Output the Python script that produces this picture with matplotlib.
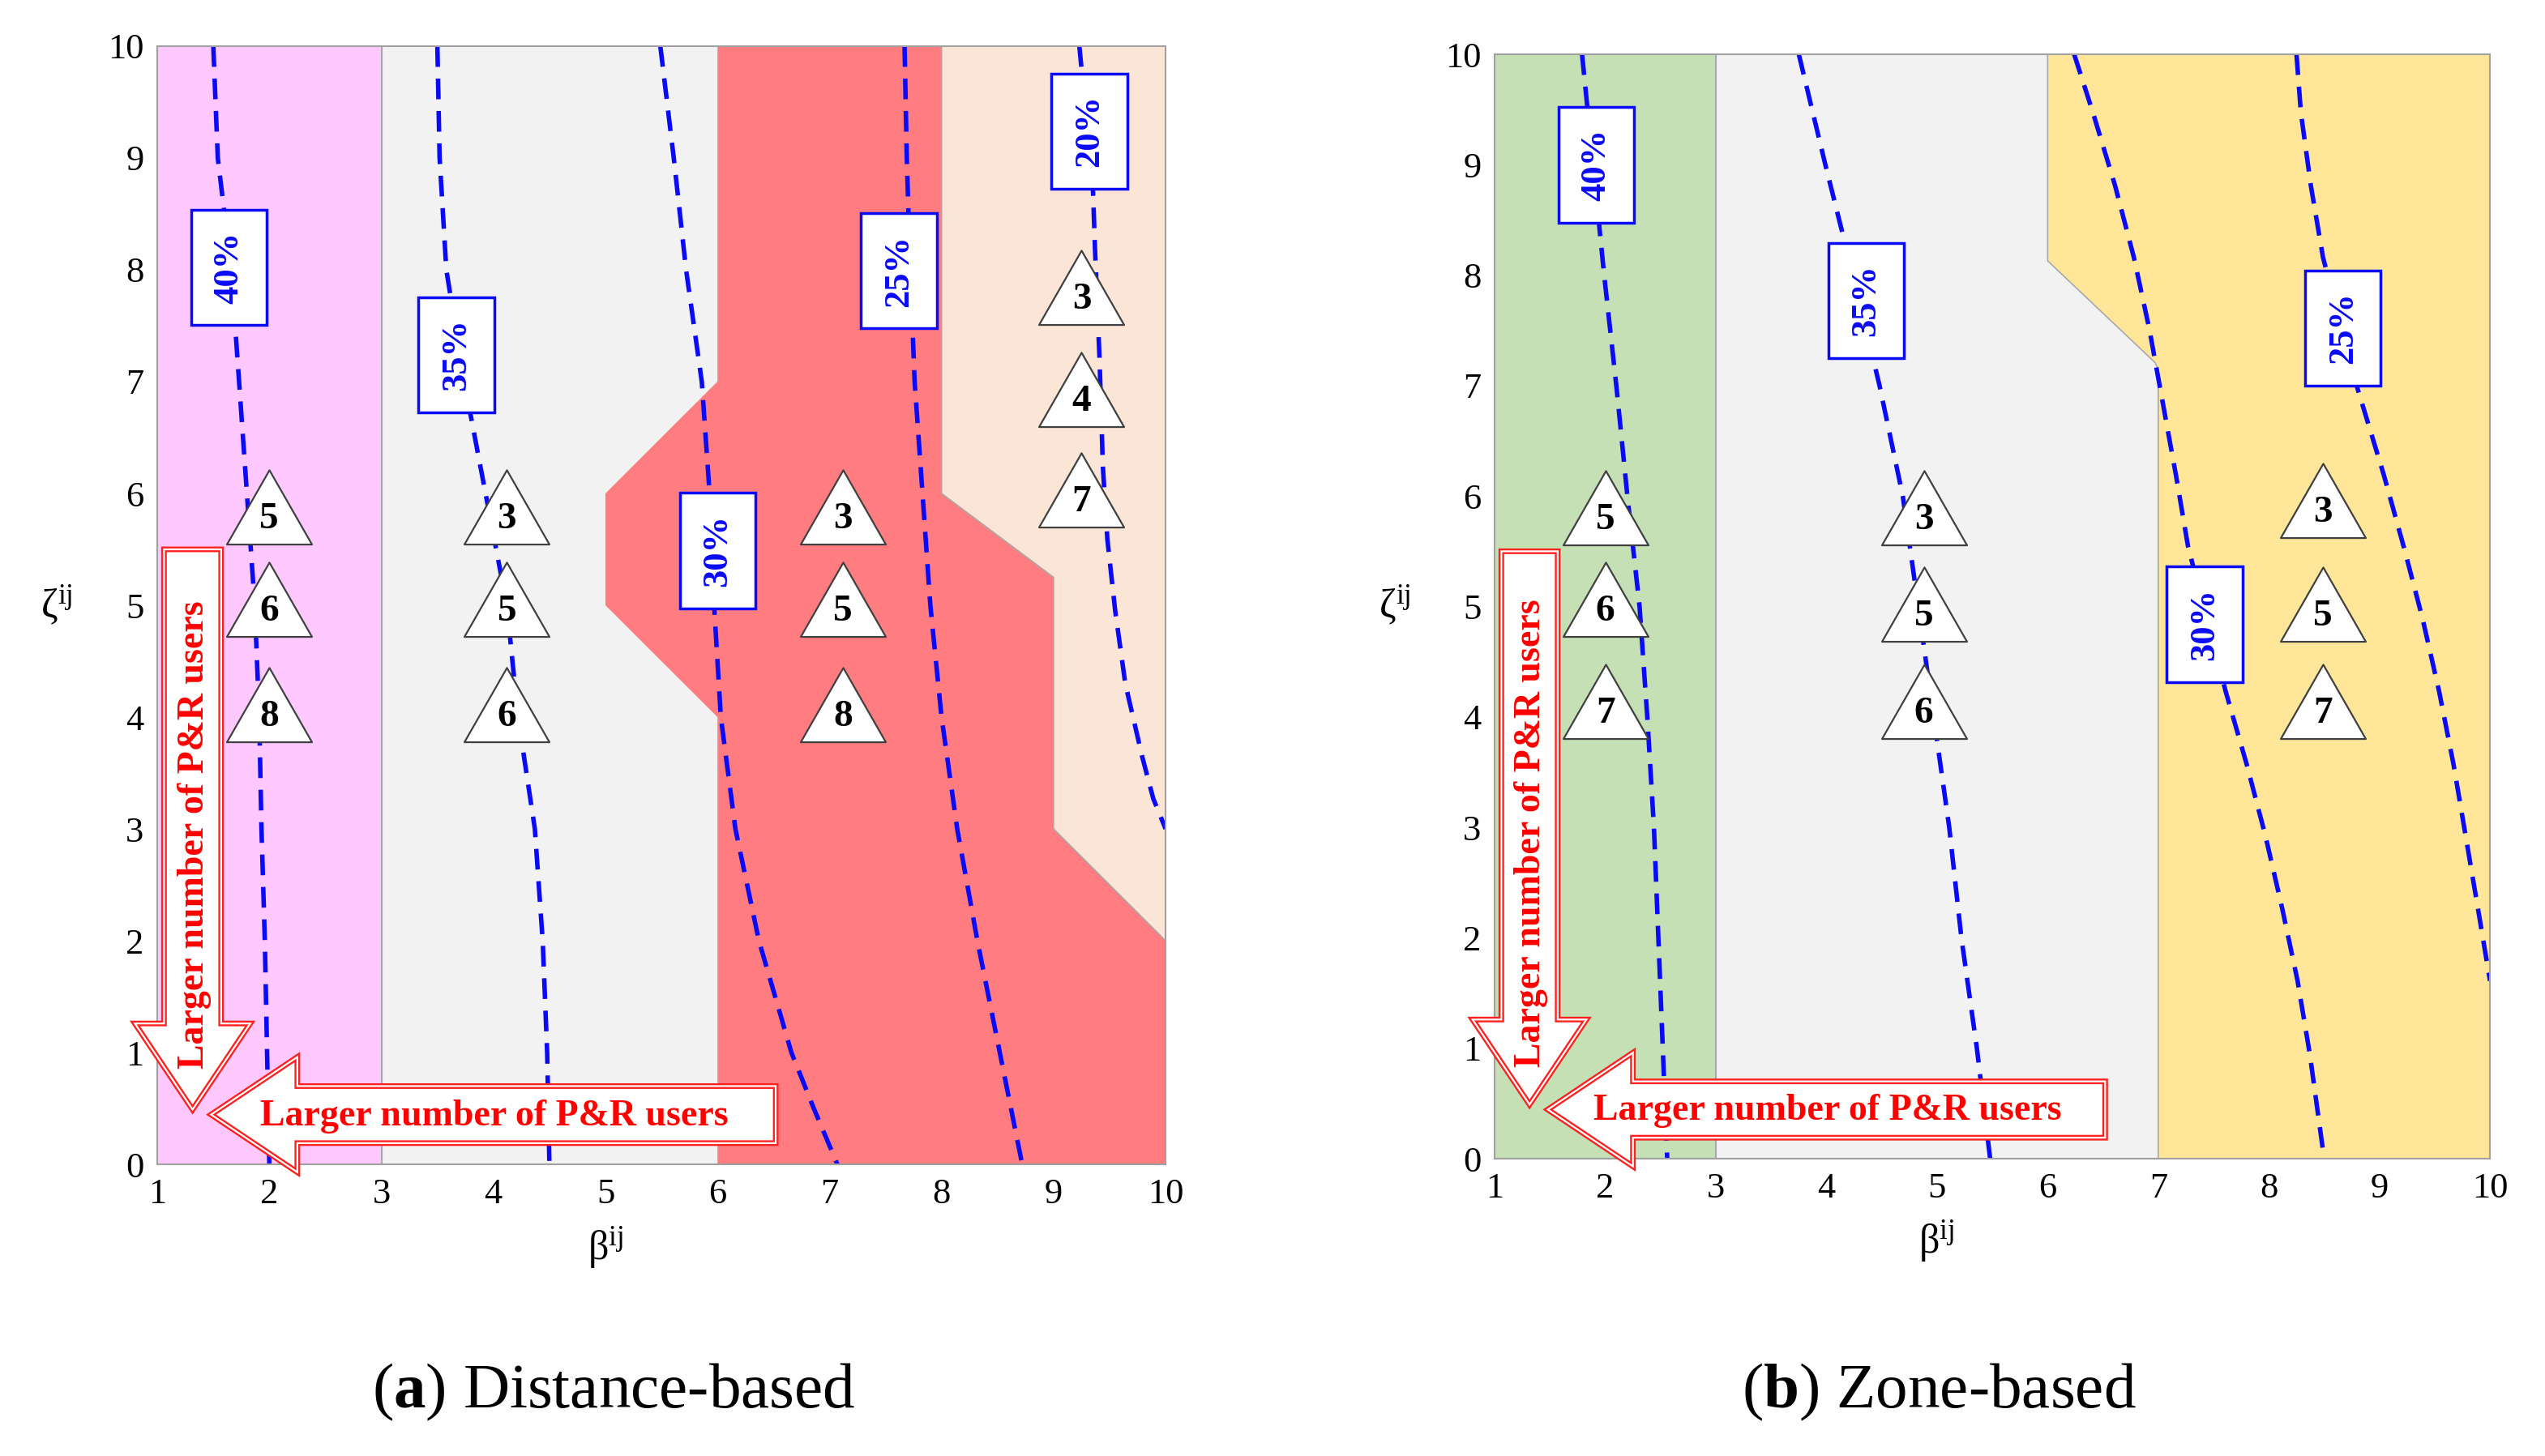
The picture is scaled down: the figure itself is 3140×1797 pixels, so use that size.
import matplotlib.pyplot as plt
from matplotlib.patches import Polygon
from matplotlib.path import Path

plt.rcParams['font.family'] = ['Liberation Serif', 'DejaVu Serif']
plt.rcParams['mathtext.fontset'] = 'custom'
plt.rcParams['mathtext.rm'] = 'Liberation Serif'
plt.rcParams['mathtext.it'] = 'Liberation Serif:italic'
plt.rcParams['mathtext.bf'] = 'Liberation Serif:bold'

# ---- data ----
levels = [10, 9, 8, 7, 6, 5, 4, 3, 2, 1, 0]

# (a) distance-based : x of each share contour at the given levels
a40 = [1.5, 1.54, 1.66, 1.73, 1.80, 1.87, 1.91, 1.93, 1.96, 1.98, 2.0]
a35 = [3.5, 3.52, 3.58, 3.74, 3.93, 4.12, 4.22, 4.37, 4.44, 4.48, 4.5]
a30_y = [10, 9, 8, 7, 6, 5, 4, 3, 2, 1, 0.5, 0]
a30_x = [5.49, 5.61, 5.72, 5.86, 5.93, 5.97, 6.03, 6.16, 6.37, 6.66, 6.86, 7.07]
a25 = [7.67, 7.69, 7.72, 7.76, 7.83, 7.9, 8.0, 8.14, 8.32, 8.52, 8.72]
a20_y = [10, 8.76, 8.18, 7.21, 6.24, 5.59, 4.95, 4.30, 3.65, 3.27, 3.0]
a20_x = [9.23, 9.35, 9.37, 9.41, 9.44, 9.48, 9.55, 9.64, 9.79, 9.89, 10.0]

# (b) zone-based
b40 = [1.79, 1.89, 1.99, 2.1, 2.2, 2.31, 2.38, 2.44, 2.48, 2.52, 2.56]
b35 = [3.75, 3.99, 4.24, 4.48, 4.69, 4.83, 4.97, 5.11, 5.22, 5.36, 5.48]
b30_y = [10, 9.47, 8.81, 8.16, 7.51, 6.85, 6.19, 5.54, 4.23, 3.57, 2.92, 2.27, 1.61, 0.95, 0]
b30_x = [6.24, 6.41, 6.61, 6.78, 6.92, 7.04, 7.16, 7.27, 7.61, 7.80, 7.97, 8.12, 8.26, 8.37, 8.50]
b25_y = [10, 9.47, 8.81, 8.16, 6.98, 6.19, 5.54, 4.89, 4.23, 3.57, 2.92, 2.27, 1.61]
b25_x = [8.25, 8.29, 8.38, 8.49, 8.80, 9.04, 9.22, 9.39, 9.54, 9.67, 9.78, 9.89, 10.0]

# regions (boundary vertices)
a_pink = [(1, 0), (3, 0), (3, 10), (1, 10)]
a_gray = [(3, 0), (6, 0), (6, 10), (3, 10)]
a_red = [(6, 10), (6, 7), (5, 6), (5, 5), (6, 4), (6, 0), (10, 0), (10, 2),
         (9, 3), (9, 5.25), (8, 6), (8, 10)]
a_peach = [(8, 10), (8, 6), (9, 5.25), (9, 3), (10, 2), (10, 10)]

b_green = [(1, 0), (3, 0), (3, 10), (1, 10)]
b_gray = [(3, 0), (7, 0), (7, 10), (3, 10)]
b_yellow = [(6, 10), (6, 8.13), (6.97, 7.21), (7, 7.15), (7, 0), (10, 0), (10, 10)]

# contour labels
a_lab = ['40%', '35%', '30%', '25%', '20%']
a_lab_x = [1.64, 3.67, 6.0, 7.62, 9.32]
a_lab_y = [8.02, 7.24, 5.49, 7.99, 9.24]
b_lab = ['40%', '35%', '30%', '25%']
b_lab_x = [1.92, 4.36, 7.42, 8.67]
b_lab_y = [9.0, 7.77, 4.84, 7.52]

# triangles with numbers
a_tri_x = [2.0, 2.0, 2.0, 4.12, 4.12, 4.12, 7.12, 7.12, 7.12, 9.25, 9.25, 9.25]
a_tri_y = [5.77, 4.94, 4.0, 5.77, 4.94, 4.0, 5.77, 4.94, 4.0, 7.73, 6.82, 5.92]
a_tri_n = ['5', '6', '8', '3', '5', '6', '3', '5', '8', '3', '4', '7']
b_tri_x = [2.0, 2.0, 2.0, 4.88, 4.88, 4.88, 8.49, 8.49, 8.49]
b_tri_y = [5.78, 4.95, 4.03, 5.78, 4.91, 4.03, 5.85, 4.91, 4.03]
b_tri_n = ['5', '6', '7', '3', '5', '6', '3', '5', '7']

arrow_text = 'Larger number of P&R users'

BLUE = '#0A0AF5'
EDGE = '#A8A8A8'
tri_marker = Path([(0, 60), (-51.5, -30), (51.5, -30), (0, 60)],
                  [Path.MOVETO, Path.LINETO, Path.LINETO, Path.CLOSEPOLY])


def block_arrow(ax, pts):
    ax.add_patch(Polygon(pts, closed=True, facecolor='white', edgecolor='#FF2020',
                         lw=5, clip_on=False, zorder=6))
    ax.add_patch(Polygon(pts, closed=True, facecolor='none', edgecolor='white',
                         lw=1.6, clip_on=False, zorder=6))


def down_arrow(cx, top, head_y, tip_y, shaft_w, head_w):
    return [(cx - shaft_w / 2, top), (cx + shaft_w / 2, top), (cx + shaft_w / 2, head_y),
            (cx + head_w / 2, head_y), (cx, tip_y), (cx - head_w / 2, head_y),
            (cx - shaft_w / 2, head_y)]


def left_arrow(cy, right, head_x, tip_x, shaft_h, head_h):
    return [(right, cy - shaft_h / 2), (right, cy + shaft_h / 2), (head_x, cy + shaft_h / 2),
            (head_x, cy + head_h / 2), (tip_x, cy), (head_x, cy - head_h / 2),
            (head_x, cy - shaft_h / 2)]


def panel(ax, regions, colors, curves, labs, lx, ly, tx, ty, tn):
    for i, (reg, c) in enumerate(zip(regions, colors)):
        ec = EDGE if i == len(regions) - 1 else 'none'
        ax.add_patch(Polygon(reg, closed=True, facecolor=c, edgecolor=ec, lw=1.2, zorder=1))
    ax.axvline(3, color=EDGE, lw=1.5, zorder=1.5)
    for cx, cy in curves:
        ax.plot(cx, cy, color=BLUE, lw=4, ls=(0, (4.6, 2.6)), zorder=2)
    for t, x, y in zip(labs, lx, ly):
        ax.text(x, y, t, rotation=90, ha='center', va='center', color=BLUE,
                fontsize=32, fontweight='bold', zorder=4,
                bbox=dict(boxstyle='square,pad=0.6', fc='white', ec=BLUE, lw=2.5))
    ax.plot(tx, ty, ls='none', marker=tri_marker, markersize=88, mfc='white',
            mec='#404040', mew=1.6, zorder=3)
    for x, y, n in zip(tx, ty, tn):
        ax.text(x, y, n, ha='center', va='center', fontsize=34, fontweight='bold', zorder=3.5)

    block_arrow(ax, down_arrow(1.315, 5.5, 1.26, 0.49, 0.51, 1.03))
    block_arrow(ax, left_arrow(0.445, 6.52, 2.25, 1.48, 0.51, 1.03))
    ax.text(1.33, 2.95, arrow_text, rotation=90, ha='center', va='center', color='#FF0000',
            fontsize=33, fontweight='bold', zorder=7)
    ax.text(4.01, 0.43, arrow_text, ha='center', va='center', color='#FF0000',
            fontsize=33, fontweight='bold', zorder=7)

    ax.set_xlim(1, 10)
    ax.set_ylim(0, 10)
    ax.set_xticks(range(1, 11))
    ax.set_yticks(range(0, 11))
    ax.tick_params(length=0, labelsize=32, pad=12)
    for s in ax.spines.values():
        s.set_color('#A0A0A0')
        s.set_linewidth(1.5)
        s.set_zorder(5)


fig = plt.figure(figsize=(31.4, 17.97), dpi=100)
axa = fig.add_axes([0.0618, 0.2003, 0.3962, 0.768])
axb = fig.add_axes([0.5873, 0.2042, 0.3911, 0.7585])

panel(axa, [a_pink, a_gray, a_red, a_peach], ['#FFC9FF', '#F2F2F2', '#FF7C80', '#FBE5D6'],
      [(a40, levels), (a35, levels), (a30_x, a30_y), (a25, levels), (a20_x, a20_y)],
      a_lab, a_lab_x, a_lab_y, a_tri_x, a_tri_y, a_tri_n)
panel(axb, [b_green, b_gray, b_yellow], ['#C5E0B4', '#F2F2F2', '#FFE699'],
      [(b40, levels), (b35, levels), (b30_x, b30_y), (b25_x, b25_y)],
      b_lab, b_lab_x, b_lab_y, b_tri_x, b_tri_y, b_tri_n)

fig.text(0.238, 0.143, r'β$^{\mathrm{ij}}$', ha='center', va='center', fontsize=36)
fig.text(0.0223, 0.584, r'ζ$^{\mathrm{ij}}$', ha='center', va='center', fontsize=36)
fig.text(0.761, 0.1475, r'β$^{\mathrm{ij}}$', ha='center', va='center', fontsize=36)
fig.text(0.548, 0.584, r'ζ$^{\mathrm{ij}}$', ha='center', va='center', fontsize=36)

fig.text(0.241, 0.044, r'($\mathbf{a}$) Distance-based', ha='center', va='center', fontsize=57)
fig.text(0.762, 0.044, r'($\mathbf{b}$) Zone-based', ha='center', va='center', fontsize=57)

fig.savefig('out.png', dpi=100)
